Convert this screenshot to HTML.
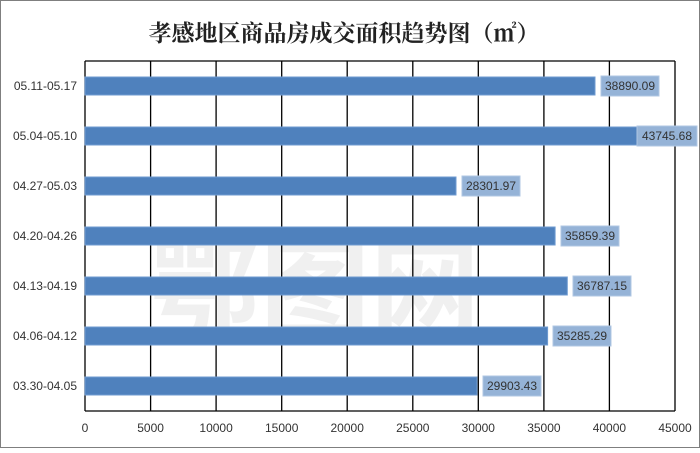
<!DOCTYPE html>
<html><head><meta charset="utf-8"><style>
body{margin:0;background:#fff}
svg text{font-family:"Liberation Sans","Noto Sans CJK SC",sans-serif}
</style></head><body>
<svg width="700" height="448" xmlns="http://www.w3.org/2000/svg">
<rect x="0.5" y="0.5" width="699" height="447" fill="#fff" stroke="#7f7f7f"/>
<text x="344" y="41" text-anchor="middle" font-size="23" font-weight="bold" fill="#222" style="font-family:'Noto Serif CJK SC','Liberation Serif',serif">孝感地区商品房成交面积趋势图（㎡）</text>
<g opacity="0.12" fill="#888" font-size="110" font-weight="bold"><text x="150" y="330" style="font-family:'Noto Sans CJK SC',sans-serif">鄂图网</text></g>
<g stroke="#000" stroke-width="1.3">
<line x1="85" y1="61" x2="675" y2="61"/>
<line x1="85" y1="411" x2="675" y2="411"/>
<line x1="85" y1="61" x2="85" y2="411"/>
<line x1="150.6" y1="61" x2="150.6" y2="411"/>
<line x1="216.1" y1="61" x2="216.1" y2="411"/>
<line x1="281.7" y1="61" x2="281.7" y2="411"/>
<line x1="347.2" y1="61" x2="347.2" y2="411"/>
<line x1="412.8" y1="61" x2="412.8" y2="411"/>
<line x1="478.3" y1="61" x2="478.3" y2="411"/>
<line x1="543.9" y1="61" x2="543.9" y2="411"/>
<line x1="609.4" y1="61" x2="609.4" y2="411"/>
<line x1="675" y1="61" x2="675" y2="411"/>
</g>
<g font-size="12" fill="#333" text-anchor="middle">
<text x="85" y="432">0</text><text x="150.6" y="432">5000</text><text x="216.1" y="432">10000</text><text x="281.7" y="432">15000</text><text x="347.2" y="432">20000</text><text x="412.8" y="432">25000</text><text x="478.3" y="432">30000</text><text x="543.9" y="432">35000</text><text x="609.4" y="432">40000</text><text x="675" y="432">45000</text>
</g>
<g font-size="12" fill="#333" text-anchor="end">
<text x="77" y="90">05.11-05.17</text><text x="77" y="140">05.04-05.10</text><text x="77" y="190">04.27-05.03</text><text x="77" y="240">04.20-04.26</text><text x="77" y="290">04.13-04.19</text><text x="77" y="340">04.06-04.12</text><text x="77" y="390">03.30-04.05</text>
</g>
<g fill="#4f81bd" stroke="#6f9bd1" stroke-width="1">
<rect x="85" y="77" width="510" height="18"/>
<rect x="85" y="127" width="573.5" height="18"/>
<rect x="85" y="177" width="371" height="18"/>
<rect x="85" y="227" width="470.1" height="18"/>
<rect x="85" y="277" width="482.3" height="18"/>
<rect x="85" y="327" width="462.6" height="18"/>
<rect x="85" y="377" width="392" height="18"/>
</g>
<g fill="#95b3d7" stroke="#b0c7e3" stroke-width="1">
<rect x="601" y="76" width="58" height="20"/>
<rect x="637" y="126" width="60" height="20"/>
<rect x="462" y="176" width="58" height="20"/>
<rect x="561" y="226" width="58" height="20"/>
<rect x="573" y="276" width="58" height="20"/>
<rect x="553" y="326" width="58" height="20"/>
<rect x="483" y="376" width="58" height="20"/>
</g>
<g font-size="12" fill="#333" text-anchor="middle">
<text x="630" y="90">38890.09</text><text x="667" y="140">43745.68</text><text x="491" y="190">28301.97</text><text x="590" y="240">35859.39</text><text x="602" y="290">36787.15</text><text x="582" y="340">35285.29</text><text x="512" y="390">29903.43</text>
</g>
</svg>
</body></html>
